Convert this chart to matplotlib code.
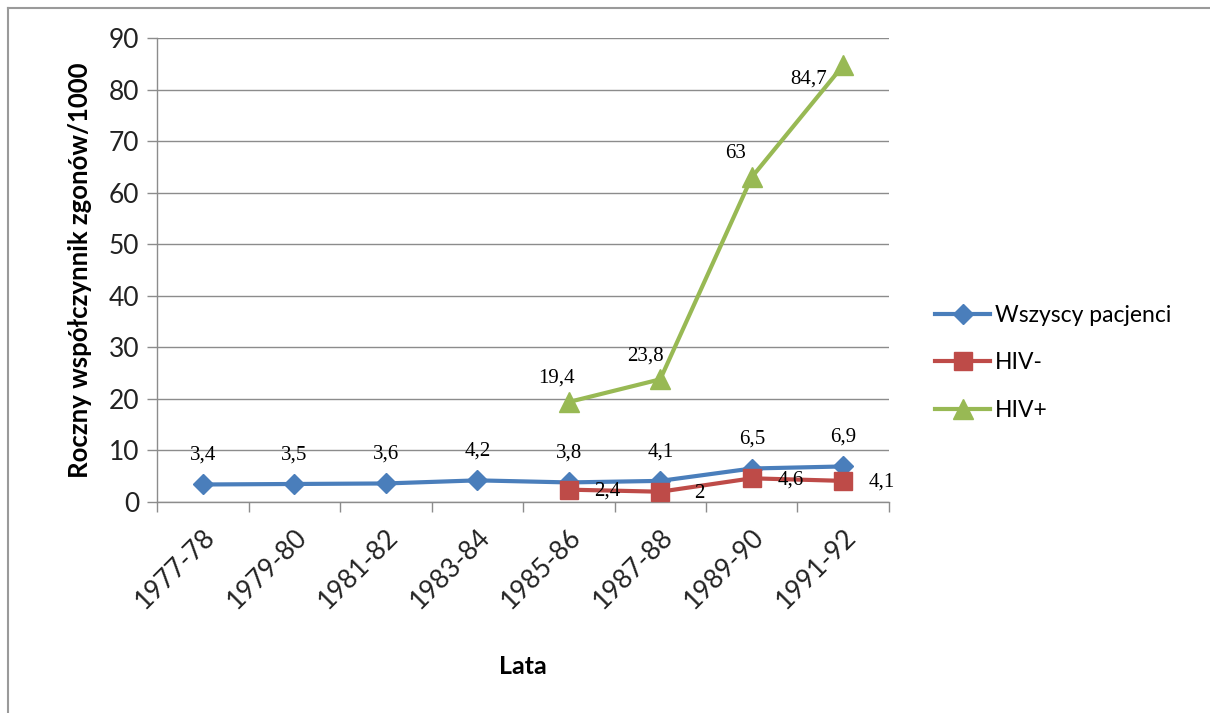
import numpy as np
import matplotlib
matplotlib.use("Agg")
import matplotlib.pyplot as plt
from matplotlib.lines import Line2D

# Dane
lata = ["1977-78", "1979-80", "1981-82", "1983-84", "1985-86", "1987-88", "1989-90", "1991-92"]
wszyscy = [3.4, 3.5, 3.6, 4.2, 3.8, 4.1, 6.5, 6.9]
hiv_neg = [np.nan, np.nan, np.nan, np.nan, 2.4, 2.0, 4.6, 4.1]
hiv_pos = [np.nan, np.nan, np.nan, np.nan, 19.4, 23.8, 63.0, 84.7]
nazwy = ["Wszyscy pacjenci", "HIV-", "HIV+"]

kolory = ["#4A7EBB", "#BE4B48", "#98B954"]
siatka = "#8C8C8C"

plt.rcParams['font.family'] = ['Lato', 'DejaVu Sans']

fig = plt.figure(figsize=(12.1, 7.13), dpi=100)
ax = fig.add_axes([0.1298, 0.2959, 0.6049, 0.6508])

x = np.arange(len(lata))

ax.plot(x, wszyscy, color=kolory[0], lw=3, marker='D', ms=10, label=nazwy[0], zorder=3)
ax.plot(x, hiv_neg, color=kolory[1], lw=3, marker='s', ms=13, label=nazwy[1], zorder=4)
ax.plot(x, hiv_pos, color=kolory[2], lw=3, marker='^', ms=14, label=nazwy[2], zorder=5)

def fmt(v):
    return ("%g" % v).replace('.', ',')

etyk = dict(fontsize=15, family='Liberation Serif', color='black', zorder=6)

# etykiety danych
for i, v in enumerate(wszyscy):
    ax.annotate(fmt(v), (x[i], v), xytext=(0, 21), textcoords='offset points',
                ha='center', va='center', **etyk)
for i, v in enumerate(hiv_neg):
    if np.isnan(v):
        continue
    ax.annotate(fmt(v), (x[i], v), xytext=(28, -1), textcoords='offset points',
                ha='center', va='center', **etyk)
off_pos = [(-9, 17), (-11, 17), (-12, 17), (-25, -10)]
k = 0
for i, v in enumerate(hiv_pos):
    if np.isnan(v):
        continue
    ax.annotate(fmt(v), (x[i], v), xytext=off_pos[k], textcoords='offset points',
                ha='center', va='center', **etyk)
    k += 1

ax.set_xlim(-0.5, len(lata) - 0.5)
ax.set_ylim(0, 90)
ax.set_yticks(np.arange(0, 91, 10))
ax.set_xticks(np.arange(-0.5, len(lata), 1), minor=True)
ax.set_xticks(x)
ax.set_xticklabels(lata, rotation=45, ha='right', rotation_mode='anchor')
ax.tick_params(axis='x', which='major', length=0, labelsize=19, pad=16)
ax.tick_params(axis='x', which='minor', length=7, color=siatka, width=1)
ax.tick_params(axis='y', length=7, color=siatka, width=1, labelsize=19, labelcolor='#222222', pad=6)
ax.tick_params(axis='x', labelcolor='#222222')

ax.grid(axis='y', color=siatka, lw=1)
ax.set_axisbelow(True)
for s in ['top', 'right']:
    ax.spines[s].set_visible(False)
for s in ['left', 'bottom']:
    ax.spines[s].set_color(siatka)
    ax.spines[s].set_linewidth(1)

ax.set_ylabel("Roczny współczynnik zgonów/1000", fontsize=18.5, fontweight='bold', labelpad=12)
ax.set_xlabel("Lata", fontsize=18, fontweight='bold', labelpad=30)

fig.legend(loc='center left', bbox_to_anchor=(0.756, 0.491), frameon=False,
           fontsize=16.5, handlelength=2.4, labelspacing=1.15, handletextpad=0.2)

# ramka wykresu
fig.add_artist(Line2D([0.0066, 1.0], [0.9888, 0.9888], color='#9A9A9A', lw=1.5, transform=fig.transFigure))
fig.add_artist(Line2D([0.0066, 0.0066], [0.0, 0.9888], color='#9A9A9A', lw=1.5, transform=fig.transFigure))

fig.savefig("out.png", dpi=100)
